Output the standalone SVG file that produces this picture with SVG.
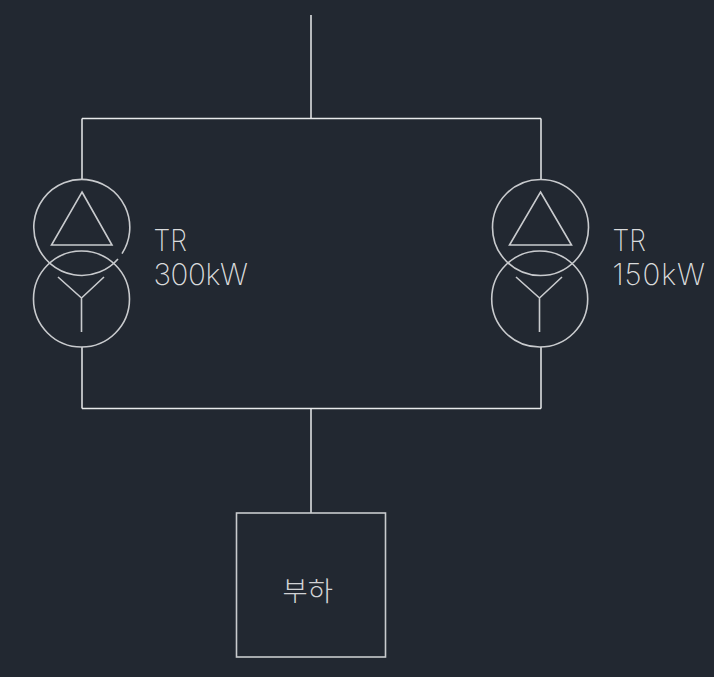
<svg xmlns="http://www.w3.org/2000/svg" width="714" height="677" viewBox="0 0 714 677">
<style>
.l{fill:none;stroke:#e8e9ea;stroke-width:1.5}
.s{fill:none;stroke:#c9cbce;stroke-width:1.6}
.t{fill:#dcddde;font-family:"Inter","Noto Sans","Liberation Sans",sans-serif;font-weight:200;font-size:29.500px;opacity:.99}
.k{fill:#d4d5d7;font-family:"Noto Sans CJK KR",sans-serif;font-weight:300;font-size:27px;opacity:.99}
</style>
<rect width="714" height="677" fill="#222831"/>
<g id="connectors">
<path class="l" d="M311 15V118.500M82 118.500H541M82 118.500V179M541 118.500V179M82 347V408.500M541 347V408.500M82 408.500H541M311 408.500V513"/>
</g>
<g id="tr300">
<path class="s" d="M122 253.600A48 48 0 1 0 118 258.900"/>
<circle class="s" cx="81.500" cy="299" r="48"/>
<path class="s" d="M82 192L112 245H51.500Z"/>
<path class="s" d="M58 277L81.500 298L104 277M81.500 298V332"/>
<text class="t" x="153.500" y="250.500" textLength="33.500" lengthAdjust="spacingAndGlyphs">TR</text>
<text class="t" x="153.500" y="285" textLength="94.500" lengthAdjust="spacing">300kW</text>
</g>
<g id="tr150">
<circle class="s" cx="540.500" cy="227.500" r="48"/>
<circle class="s" cx="539.700" cy="299" r="48"/>
<path class="s" d="M540.500 192L571.500 245H509.500Z"/>
<path class="s" d="M516 277L539.500 298L562 277M539.500 298V332"/>
<text class="t" x="612.500" y="250.500" textLength="33.500" lengthAdjust="spacingAndGlyphs">TR</text>
<text class="t" x="612.500" y="285" textLength="92.500" lengthAdjust="spacing">150kW</text>
</g>
<g id="load">
<rect class="s" x="236.500" y="513" width="149" height="144"/>
<text class="k" x="282.500" y="601" textLength="50.500" lengthAdjust="spacingAndGlyphs">부하</text>
</g>
</svg>
